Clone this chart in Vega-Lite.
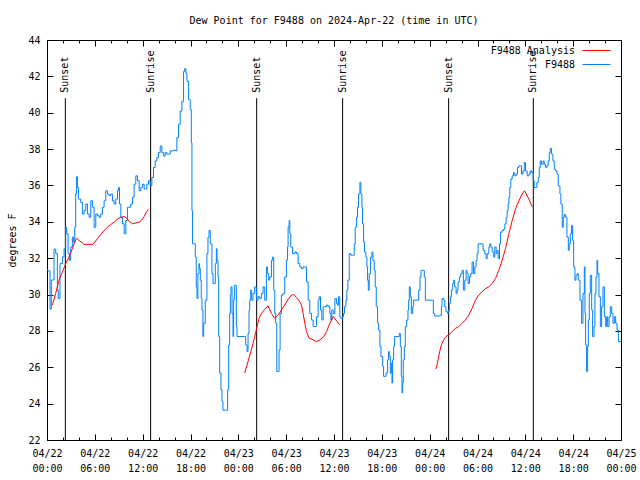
{
  "$schema": "https://vega.github.io/schema/vega-lite/v6.json",
  "width": 574,
  "height": 400,
  "autosize": {"type": "none"},
  "padding": {"left": 47, "top": 40, "right": 19, "bottom": 40},
  "background": "white",
  "title": {"text": "Dew Point for F9488 on 2024-Apr-22 (time in UTC)", "font": "DejaVu Sans Mono", "fontSize": 10, "fontWeight": "normal", "color": "black", "anchor": "middle", "offset": 9},
  "config": {"view": {"stroke": null}, "font": "DejaVu Sans Mono"},
  "datasets": {
    "sun": [
      {"h": 2.30, "label": "Sunset"},
      {"h": 13.0, "label": "Sunrise"},
      {"h": 26.3, "label": "Sunset"},
      {"h": 37.08, "label": "Sunrise"},
      {"h": 50.38, "label": "Sunset"},
      {"h": 61.0, "label": "Sunrise"}
    ],
    "obs": [
      {"h": 0.0, "v": 31.35}, {"h": 0.13, "v": 31.3}, {"h": 0.38, "v": 29.2}, {"h": 0.54, "v": 30.8}, {"h": 0.88, "v": 32.5},
      {"h": 1.09, "v": 32.25}, {"h": 1.30, "v": 30.24}, {"h": 1.42, "v": 29.78}, {"h": 1.63, "v": 31.70}, {"h": 1.93, "v": 32.07},
      {"h": 2.14, "v": 32.52}, {"h": 2.35, "v": 33.70}, {"h": 2.47, "v": 33.34}, {"h": 2.64, "v": 32.25}, {"h": 2.81, "v": 31.88},
      {"h": 2.97, "v": 32.61}, {"h": 3.18, "v": 33.16}, {"h": 3.31, "v": 32.88}, {"h": 3.48, "v": 33.70}, {"h": 3.60, "v": 35.53},
      {"h": 3.69, "v": 36.48}, {"h": 3.81, "v": 35.89}, {"h": 3.94, "v": 35.25}, {"h": 4.23, "v": 35.07}, {"h": 4.44, "v": 34.43},
      {"h": 4.65, "v": 34.62}, {"h": 4.86, "v": 34.98}, {"h": 5.07, "v": 34.43}, {"h": 5.28, "v": 34.25}, {"h": 5.49, "v": 35.16},
      {"h": 5.70, "v": 34.80}, {"h": 5.91, "v": 33.70}, {"h": 6.12, "v": 34.43}, {"h": 6.32, "v": 34.34}, {"h": 6.53, "v": 34.25},
      {"h": 6.74, "v": 34.43}, {"h": 6.95, "v": 34.80}, {"h": 7.16, "v": 35.16}, {"h": 7.37, "v": 35.71}, {"h": 7.58, "v": 35.53},
      {"h": 7.79, "v": 35.44}, {"h": 8.00, "v": 35.53}, {"h": 8.21, "v": 35.16}, {"h": 8.42, "v": 34.98}, {"h": 8.63, "v": 35.25},
      {"h": 8.84, "v": 35.71}, {"h": 8.96, "v": 35.89}, {"h": 9.09, "v": 34.98}, {"h": 9.26, "v": 34.25}, {"h": 9.47, "v": 33.89},
      {"h": 9.68, "v": 33.34}, {"h": 9.89, "v": 34.07}, {"h": 10.09, "v": 34.80}, {"h": 10.30, "v": 34.80}, {"h": 10.51, "v": 34.98},
      {"h": 10.72, "v": 35.35}, {"h": 10.93, "v": 36.07}, {"h": 11.14, "v": 36.53}, {"h": 11.35, "v": 36.26}, {"h": 11.56, "v": 35.71},
      {"h": 11.77, "v": 35.89}, {"h": 11.98, "v": 36.07}, {"h": 12.19, "v": 35.80}, {"h": 12.31, "v": 35.80}, {"h": 12.52, "v": 36.07},
      {"h": 12.73, "v": 36.26}, {"h": 12.94, "v": 35.98}, {"h": 13.15, "v": 36.44}, {"h": 13.36, "v": 36.99}, {"h": 13.57, "v": 37.35},
      {"h": 13.78, "v": 37.53}, {"h": 13.99, "v": 37.81}, {"h": 14.20, "v": 38.17}, {"h": 14.41, "v": 37.81}, {"h": 14.62, "v": 37.62},
      {"h": 14.83, "v": 37.81}, {"h": 15.04, "v": 37.72}, {"h": 15.25, "v": 37.72}, {"h": 15.46, "v": 37.90}, {"h": 15.87, "v": 37.93},
      {"h": 16.21, "v": 37.90}, {"h": 16.29, "v": 38.63}, {"h": 16.50, "v": 39.36}, {"h": 16.71, "v": 40.09}, {"h": 16.92, "v": 40.63},
      {"h": 17.13, "v": 42.27}, {"h": 17.26, "v": 42.42}, {"h": 17.42, "v": 42.18}, {"h": 17.55, "v": 41.73}, {"h": 17.76, "v": 40.72},
      {"h": 17.97, "v": 40.18}, {"h": 18.10, "v": 38.35}, {"h": 18.18, "v": 34.62}, {"h": 18.26, "v": 32.79}, {"h": 18.51, "v": 32.79},
      {"h": 18.60, "v": 32.06}, {"h": 18.72, "v": 30.42}, {"h": 18.81, "v": 29.78}, {"h": 18.93, "v": 31.15}, {"h": 19.06, "v": 31.70},
      {"h": 19.14, "v": 31.43}, {"h": 19.23, "v": 30.79}, {"h": 19.35, "v": 29.78}, {"h": 19.44, "v": 29.15}, {"h": 19.56, "v": 27.69},
      {"h": 19.65, "v": 28.42}, {"h": 19.85, "v": 29.69}, {"h": 20.06, "v": 32.25}, {"h": 20.19, "v": 33.16}, {"h": 20.32, "v": 33.52},
      {"h": 20.48, "v": 32.79}, {"h": 20.69, "v": 31.15}, {"h": 20.82, "v": 30.61}, {"h": 20.90, "v": 30.61}, {"h": 21.11, "v": 31.70},
      {"h": 21.24, "v": 32.52}, {"h": 21.32, "v": 31.88}, {"h": 21.45, "v": 30.97}, {"h": 21.53, "v": 27.69}, {"h": 21.66, "v": 25.68},
      {"h": 21.82, "v": 24.77}, {"h": 21.95, "v": 24.13}, {"h": 22.07, "v": 23.64}, {"h": 22.58, "v": 23.64}, {"h": 22.66, "v": 24.77},
      {"h": 22.79, "v": 27.23}, {"h": 22.91, "v": 28.96}, {"h": 23.00, "v": 29.97}, {"h": 23.08, "v": 30.42}, {"h": 23.21, "v": 28.96},
      {"h": 23.33, "v": 27.69}, {"h": 23.41, "v": 29.69}, {"h": 23.50, "v": 30.51}, {"h": 23.62, "v": 30.51}, {"h": 23.75, "v": 28.24},
      {"h": 23.83, "v": 27.69}, {"h": 24.80, "v": 27.69}, {"h": 24.92, "v": 27.23}, {"h": 25.09, "v": 26.87}, {"h": 25.22, "v": 27.87},
      {"h": 25.34, "v": 29.15}, {"h": 25.43, "v": 29.69}, {"h": 25.55, "v": 30.24}, {"h": 25.68, "v": 29.69}, {"h": 25.84, "v": 30.06},
      {"h": 26.05, "v": 30.42}, {"h": 26.26, "v": 29.69}, {"h": 26.47, "v": 29.88}, {"h": 26.68, "v": 29.78}, {"h": 26.89, "v": 30.06},
      {"h": 27.10, "v": 30.42}, {"h": 27.31, "v": 29.69}, {"h": 27.52, "v": 31.52}, {"h": 27.65, "v": 31.15}, {"h": 27.81, "v": 30.79},
      {"h": 27.94, "v": 30.97}, {"h": 28.15, "v": 31.88}, {"h": 28.27, "v": 32.06}, {"h": 28.44, "v": 30.24}, {"h": 28.57, "v": 28.96},
      {"h": 28.69, "v": 28.42}, {"h": 28.82, "v": 25.77}, {"h": 28.99, "v": 25.77}, {"h": 29.11, "v": 26.96}, {"h": 29.24, "v": 28.96},
      {"h": 29.40, "v": 29.97}, {"h": 29.61, "v": 30.06}, {"h": 29.82, "v": 30.97}, {"h": 30.03, "v": 31.88}, {"h": 30.16, "v": 32.61},
      {"h": 30.24, "v": 33.70}, {"h": 30.37, "v": 34.07}, {"h": 30.45, "v": 33.34}, {"h": 30.58, "v": 32.61}, {"h": 30.79, "v": 32.25},
      {"h": 31.08, "v": 32.34}, {"h": 31.29, "v": 32.25}, {"h": 31.50, "v": 31.70}, {"h": 31.71, "v": 31.52}, {"h": 31.92, "v": 31.43},
      {"h": 32.13, "v": 31.52}, {"h": 32.34, "v": 31.52}, {"h": 32.55, "v": 30.70}, {"h": 32.76, "v": 29.69}, {"h": 32.96, "v": 28.96},
      {"h": 33.17, "v": 28.60}, {"h": 33.38, "v": 28.24}, {"h": 33.59, "v": 28.24}, {"h": 33.80, "v": 28.78}, {"h": 34.01, "v": 29.69},
      {"h": 34.14, "v": 29.88}, {"h": 34.31, "v": 29.15}, {"h": 34.47, "v": 28.60}, {"h": 34.64, "v": 29.33}, {"h": 34.85, "v": 29.33},
      {"h": 35.06, "v": 29.42}, {"h": 35.27, "v": 29.33}, {"h": 35.48, "v": 28.96}, {"h": 35.60, "v": 28.60}, {"h": 35.73, "v": 29.15},
      {"h": 35.90, "v": 28.96}, {"h": 36.11, "v": 29.78}, {"h": 36.32, "v": 29.51}, {"h": 36.44, "v": 29.42}, {"h": 36.57, "v": 29.88},
      {"h": 36.73, "v": 28.78}, {"h": 36.86, "v": 28.69}, {"h": 37.07, "v": 28.78}, {"h": 37.20, "v": 28.96}, {"h": 37.32, "v": 29.33},
      {"h": 37.49, "v": 29.69}, {"h": 37.61, "v": 30.24}, {"h": 37.74, "v": 30.79}, {"h": 37.91, "v": 32.25}, {"h": 38.12, "v": 32.16},
      {"h": 38.33, "v": 32.16}, {"h": 38.54, "v": 32.79}, {"h": 38.66, "v": 33.70}, {"h": 38.83, "v": 34.25}, {"h": 38.95, "v": 34.80},
      {"h": 39.08, "v": 35.53}, {"h": 39.25, "v": 36.17}, {"h": 39.37, "v": 35.53}, {"h": 39.50, "v": 34.80}, {"h": 39.58, "v": 33.89},
      {"h": 39.71, "v": 32.88}, {"h": 39.83, "v": 32.34}, {"h": 40.00, "v": 32.06}, {"h": 40.13, "v": 31.52}, {"h": 40.21, "v": 30.79},
      {"h": 40.30, "v": 30.24}, {"h": 40.42, "v": 31.15}, {"h": 40.59, "v": 32.06}, {"h": 40.76, "v": 32.34}, {"h": 40.88, "v": 31.88},
      {"h": 41.05, "v": 31.33}, {"h": 41.17, "v": 30.42}, {"h": 41.30, "v": 29.33}, {"h": 41.47, "v": 28.42}, {"h": 41.59, "v": 28.05},
      {"h": 41.76, "v": 27.14}, {"h": 41.89, "v": 26.59}, {"h": 42.10, "v": 26.05}, {"h": 42.22, "v": 25.50}, {"h": 42.52, "v": 25.68},
      {"h": 42.72, "v": 26.41}, {"h": 42.85, "v": 26.87}, {"h": 42.93, "v": 26.59}, {"h": 43.06, "v": 25.68}, {"h": 43.19, "v": 26.23},
      {"h": 43.27, "v": 25.14}, {"h": 43.35, "v": 26.41}, {"h": 43.48, "v": 27.14}, {"h": 43.60, "v": 27.69}, {"h": 44.19, "v": 27.87},
      {"h": 44.32, "v": 27.14}, {"h": 44.44, "v": 25.50}, {"h": 44.53, "v": 24.59}, {"h": 44.61, "v": 25.14}, {"h": 44.69, "v": 26.41},
      {"h": 44.82, "v": 27.14}, {"h": 44.94, "v": 28.24}, {"h": 45.11, "v": 28.60}, {"h": 45.28, "v": 29.15}, {"h": 45.36, "v": 29.69},
      {"h": 45.45, "v": 30.42}, {"h": 45.57, "v": 29.88}, {"h": 45.70, "v": 28.96}, {"h": 45.87, "v": 29.33}, {"h": 45.99, "v": 29.69},
      {"h": 46.49, "v": 29.69}, {"h": 46.62, "v": 30.24}, {"h": 46.79, "v": 30.97}, {"h": 46.91, "v": 31.33}, {"h": 47.21, "v": 31.33},
      {"h": 47.33, "v": 30.97}, {"h": 47.46, "v": 29.69}, {"h": 48.38, "v": 29.69}, {"h": 48.46, "v": 28.96}, {"h": 48.63, "v": 28.82},
      {"h": 49.34, "v": 28.87}, {"h": 49.47, "v": 29.33}, {"h": 49.55, "v": 29.78}, {"h": 49.76, "v": 29.69}, {"h": 49.89, "v": 29.33},
      {"h": 50.05, "v": 29.06}, {"h": 50.22, "v": 28.96}, {"h": 50.39, "v": 29.15}, {"h": 50.47, "v": 29.51}, {"h": 50.60, "v": 29.88},
      {"h": 50.73, "v": 30.24}, {"h": 50.89, "v": 30.61}, {"h": 51.02, "v": 30.79}, {"h": 51.14, "v": 30.42}, {"h": 51.31, "v": 30.06},
      {"h": 51.44, "v": 30.24}, {"h": 51.56, "v": 30.70}, {"h": 51.73, "v": 30.97}, {"h": 51.90, "v": 31.15}, {"h": 52.07, "v": 31.33},
      {"h": 52.23, "v": 30.24}, {"h": 52.40, "v": 30.79}, {"h": 52.57, "v": 31.33}, {"h": 52.69, "v": 31.15}, {"h": 52.82, "v": 30.61},
      {"h": 52.99, "v": 30.97}, {"h": 53.15, "v": 31.15}, {"h": 53.32, "v": 31.79}, {"h": 53.49, "v": 31.15}, {"h": 53.66, "v": 31.52},
      {"h": 53.82, "v": 31.88}, {"h": 53.95, "v": 32.25}, {"h": 54.08, "v": 32.79}, {"h": 54.58, "v": 32.79}, {"h": 54.70, "v": 32.43},
      {"h": 54.91, "v": 32.25}, {"h": 55.08, "v": 31.97}, {"h": 55.21, "v": 32.25}, {"h": 55.42, "v": 32.61}, {"h": 55.54, "v": 32.79},
      {"h": 55.67, "v": 32.61}, {"h": 55.84, "v": 32.34}, {"h": 56.04, "v": 32.06}, {"h": 56.17, "v": 32.61}, {"h": 56.34, "v": 32.25},
      {"h": 56.46, "v": 32.43}, {"h": 56.59, "v": 31.97}, {"h": 56.76, "v": 32.79}, {"h": 56.88, "v": 33.43}, {"h": 57.09, "v": 33.52},
      {"h": 57.30, "v": 33.61}, {"h": 57.43, "v": 33.89}, {"h": 57.59, "v": 34.25}, {"h": 57.72, "v": 34.62}, {"h": 57.84, "v": 34.98},
      {"h": 57.93, "v": 35.35}, {"h": 58.05, "v": 35.89}, {"h": 58.18, "v": 36.35}, {"h": 58.35, "v": 36.53}, {"h": 58.52, "v": 36.71},
      {"h": 58.68, "v": 36.53}, {"h": 58.85, "v": 36.62}, {"h": 59.02, "v": 36.99}, {"h": 59.19, "v": 37.08}, {"h": 59.35, "v": 37.08},
      {"h": 59.52, "v": 36.62}, {"h": 59.69, "v": 36.80}, {"h": 59.86, "v": 37.26}, {"h": 60.02, "v": 36.80}, {"h": 60.23, "v": 36.53},
      {"h": 60.44, "v": 36.62}, {"h": 60.61, "v": 36.80}, {"h": 60.78, "v": 36.71}, {"h": 60.99, "v": 36.26}, {"h": 61.11, "v": 35.89},
      {"h": 61.32, "v": 35.89}, {"h": 61.45, "v": 36.17}, {"h": 61.62, "v": 36.44}, {"h": 61.74, "v": 36.99}, {"h": 61.87, "v": 37.35},
      {"h": 62.03, "v": 37.17}, {"h": 62.24, "v": 37.35}, {"h": 62.37, "v": 37.17}, {"h": 62.54, "v": 36.99}, {"h": 62.70, "v": 37.08},
      {"h": 62.87, "v": 37.35}, {"h": 63.00, "v": 37.81}, {"h": 63.12, "v": 38.04}, {"h": 63.29, "v": 37.72}, {"h": 63.46, "v": 37.35},
      {"h": 63.63, "v": 36.90}, {"h": 63.79, "v": 36.80}, {"h": 63.96, "v": 36.62}, {"h": 64.13, "v": 35.98}, {"h": 64.34, "v": 35.53},
      {"h": 64.46, "v": 34.98}, {"h": 64.63, "v": 33.70}, {"h": 64.76, "v": 34.25}, {"h": 64.88, "v": 34.40}, {"h": 65.05, "v": 34.25},
      {"h": 65.22, "v": 33.16}, {"h": 65.39, "v": 32.43}, {"h": 65.51, "v": 32.79}, {"h": 65.64, "v": 33.34}, {"h": 65.80, "v": 33.80},
      {"h": 65.93, "v": 32.98}, {"h": 66.06, "v": 31.52}, {"h": 66.22, "v": 30.79}, {"h": 66.35, "v": 31.06}, {"h": 66.52, "v": 31.15},
      {"h": 66.64, "v": 30.79}, {"h": 66.85, "v": 29.69}, {"h": 67.06, "v": 28.42}, {"h": 67.23, "v": 30.06}, {"h": 67.40, "v": 31.52},
      {"h": 67.48, "v": 28.96}, {"h": 67.56, "v": 27.23}, {"h": 67.69, "v": 25.77}, {"h": 67.81, "v": 27.14}, {"h": 67.90, "v": 28.60},
      {"h": 68.02, "v": 30.06}, {"h": 68.15, "v": 31.06}, {"h": 68.32, "v": 29.15}, {"h": 68.44, "v": 27.69}, {"h": 68.61, "v": 28.24},
      {"h": 68.73, "v": 30.06}, {"h": 68.86, "v": 30.97}, {"h": 68.99, "v": 31.88}, {"h": 69.07, "v": 31.15}, {"h": 69.24, "v": 29.88},
      {"h": 69.41, "v": 28.24}, {"h": 69.57, "v": 29.33}, {"h": 69.74, "v": 30.42}, {"h": 69.91, "v": 28.78}, {"h": 70.08, "v": 28.24},
      {"h": 70.20, "v": 28.78}, {"h": 70.33, "v": 28.24}, {"h": 70.50, "v": 28.78}, {"h": 70.66, "v": 29.33}, {"h": 70.83, "v": 28.96},
      {"h": 71.00, "v": 28.42}, {"h": 71.17, "v": 28.78}, {"h": 71.33, "v": 28.42}, {"h": 71.50, "v": 28.05}, {"h": 71.67, "v": 27.41},
      {"h": 72.00, "v": 27.41}
    ],
    "ana": [
      {"seg": 1, "h": 0.67, "v": 29.42}, {"seg": 1, "h": 1.09, "v": 30.06}, {"seg": 1, "h": 1.51, "v": 30.79}, {"seg": 1, "h": 1.93, "v": 31.24},
      {"seg": 1, "h": 2.35, "v": 31.70}, {"seg": 1, "h": 2.77, "v": 32.07}, {"seg": 1, "h": 3.18, "v": 32.52}, {"seg": 1, "h": 3.48, "v": 32.88},
      {"seg": 1, "h": 3.69, "v": 33.10}, {"seg": 1, "h": 4.02, "v": 32.98}, {"seg": 1, "h": 4.44, "v": 32.83}, {"seg": 1, "h": 4.65, "v": 32.76},
      {"seg": 1, "h": 5.70, "v": 32.76}, {"seg": 1, "h": 5.91, "v": 32.83}, {"seg": 1, "h": 6.32, "v": 33.07}, {"seg": 1, "h": 6.74, "v": 33.30},
      {"seg": 1, "h": 7.16, "v": 33.52}, {"seg": 1, "h": 7.58, "v": 33.70}, {"seg": 1, "h": 8.00, "v": 33.85}, {"seg": 1, "h": 8.42, "v": 33.98},
      {"seg": 1, "h": 8.84, "v": 34.16}, {"seg": 1, "h": 9.26, "v": 34.25}, {"seg": 1, "h": 9.68, "v": 34.29}, {"seg": 1, "h": 10.09, "v": 34.16},
      {"seg": 1, "h": 10.30, "v": 34.03}, {"seg": 1, "h": 10.72, "v": 33.89}, {"seg": 1, "h": 11.14, "v": 33.94}, {"seg": 1, "h": 11.56, "v": 33.98},
      {"seg": 1, "h": 11.85, "v": 34.07}, {"seg": 1, "h": 12.19, "v": 34.29}, {"seg": 1, "h": 12.52, "v": 34.58}, {"seg": 1, "h": 12.73, "v": 34.67},
      {"seg": 2, "h": 24.80, "v": 25.68}, {"seg": 2, "h": 25.22, "v": 26.32}, {"seg": 2, "h": 25.64, "v": 26.96}, {"seg": 2, "h": 26.05, "v": 27.69},
      {"seg": 2, "h": 26.35, "v": 28.24}, {"seg": 2, "h": 26.60, "v": 28.69}, {"seg": 2, "h": 26.89, "v": 28.96}, {"seg": 2, "h": 27.31, "v": 29.18},
      {"seg": 2, "h": 27.73, "v": 29.38}, {"seg": 2, "h": 28.15, "v": 28.96}, {"seg": 2, "h": 28.57, "v": 28.69}, {"seg": 2, "h": 28.99, "v": 28.87},
      {"seg": 2, "h": 29.40, "v": 29.15}, {"seg": 2, "h": 29.82, "v": 29.42}, {"seg": 2, "h": 30.24, "v": 29.73}, {"seg": 2, "h": 30.66, "v": 29.97},
      {"seg": 2, "h": 30.95, "v": 30.00}, {"seg": 2, "h": 31.29, "v": 29.84}, {"seg": 2, "h": 31.71, "v": 29.60}, {"seg": 2, "h": 31.92, "v": 29.42},
      {"seg": 2, "h": 32.13, "v": 28.96}, {"seg": 2, "h": 32.34, "v": 28.42}, {"seg": 2, "h": 32.55, "v": 27.96}, {"seg": 2, "h": 32.88, "v": 27.60},
      {"seg": 2, "h": 33.38, "v": 27.51}, {"seg": 2, "h": 33.80, "v": 27.41}, {"seg": 2, "h": 34.22, "v": 27.51}, {"seg": 2, "h": 34.64, "v": 27.65},
      {"seg": 2, "h": 35.06, "v": 27.96}, {"seg": 2, "h": 35.48, "v": 28.42}, {"seg": 2, "h": 35.90, "v": 28.80}, {"seg": 2, "h": 36.32, "v": 28.55},
      {"seg": 2, "h": 36.73, "v": 28.33},
      {"seg": 3, "h": 48.80, "v": 25.90}, {"seg": 3, "h": 49.05, "v": 26.41}, {"seg": 3, "h": 49.26, "v": 26.87}, {"seg": 3, "h": 49.47, "v": 27.23},
      {"seg": 3, "h": 49.76, "v": 27.51}, {"seg": 3, "h": 50.05, "v": 27.69}, {"seg": 3, "h": 50.39, "v": 27.78}, {"seg": 3, "h": 50.81, "v": 27.96},
      {"seg": 3, "h": 51.23, "v": 28.14}, {"seg": 3, "h": 51.65, "v": 28.24}, {"seg": 3, "h": 52.07, "v": 28.42}, {"seg": 3, "h": 52.48, "v": 28.60},
      {"seg": 3, "h": 52.90, "v": 28.87}, {"seg": 3, "h": 53.32, "v": 29.24}, {"seg": 3, "h": 53.74, "v": 29.69}, {"seg": 3, "h": 54.16, "v": 29.97},
      {"seg": 3, "h": 54.58, "v": 30.15}, {"seg": 3, "h": 55.00, "v": 30.33}, {"seg": 3, "h": 55.42, "v": 30.42}, {"seg": 3, "h": 55.84, "v": 30.61},
      {"seg": 3, "h": 56.26, "v": 30.88}, {"seg": 3, "h": 56.67, "v": 31.33}, {"seg": 3, "h": 57.09, "v": 31.88}, {"seg": 3, "h": 57.51, "v": 32.52},
      {"seg": 3, "h": 57.93, "v": 33.34}, {"seg": 3, "h": 58.35, "v": 34.07}, {"seg": 3, "h": 58.77, "v": 34.71}, {"seg": 3, "h": 59.19, "v": 35.16},
      {"seg": 3, "h": 59.61, "v": 35.53}, {"seg": 3, "h": 59.90, "v": 35.71}, {"seg": 3, "h": 60.11, "v": 35.53}, {"seg": 3, "h": 60.44, "v": 35.25},
      {"seg": 3, "h": 60.86, "v": 34.83}
    ]
  },
  "layer": [
    {
      "data": {"name": "sun"},
      "mark": {"type": "rule", "color": "black", "strokeWidth": 1},
      "encoding": {
        "x": {"field": "h", "type": "quantitative", "scale": {"domain": [0, 72], "nice": false, "zero": false}, "axis": null},
        "y": {"datum": 40.8, "type": "quantitative", "scale": {"domain": [22, 44], "nice": false, "zero": false}, "axis": null},
        "y2": {"datum": 22}
      }
    },
    {
      "data": {"name": "sun"},
      "mark": {"type": "text", "angle": 270, "align": "left", "baseline": "middle", "font": "DejaVu Sans Mono", "fontSize": 10, "color": "black"},
      "encoding": {
        "x": {"field": "h", "type": "quantitative", "axis": null},
        "y": {"datum": 41.1, "type": "quantitative", "axis": null},
        "text": {"field": "label"}
      }
    },
    {
      "data": {"name": "obs"},
      "mark": {"type": "line", "interpolate": "step-after", "strokeWidth": 1, "clip": true},
      "encoding": {
        "x": {"field": "h", "type": "quantitative",
          "axis": {"orient": "bottom", "title": null, "values": [0,2,4,6,8,10,12,14,16,18,20,22,24,26,28,30,32,34,36,38,40,42,44,46,48,50,52,54,56,58,60,62,64,66,68,70,72],
            "labelExpr": "datum.value % 6 === 0 ? ['04/' + (22 + floor(datum.value / 24)), (datum.value % 24 < 10 ? '0' : '') + (datum.value % 24) + ':00'] : ''",
            "tickSize": {"condition": {"test": "datum.value % 6 === 0", "value": -6}, "value": -3},
            "labelPadding": 14, "labelLineHeight": 15, "labelFont": "DejaVu Sans Mono", "labelFontSize": 10, "labelColor": "black",
            "labelAngle": 0, "labelFlush": false, "labelOverlap": false, "labelBound": false,
            "domainColor": "black", "tickColor": "black", "grid": false}},
        "y": {"field": "v", "type": "quantitative",
          "axis": {"orient": "left", "title": "degrees F", "values": [22,24,26,28,30,32,34,36,38,40,42,44],
            "tickSize": -6, "labelPadding": 13, "labelFont": "DejaVu Sans Mono", "labelFontSize": 10, "labelColor": "black",
            "labelFlush": false, "labelOverlap": false, "labelBound": false,
            "titleFont": "DejaVu Sans Mono", "titleFontSize": 10, "titleFontWeight": "normal", "titleColor": "black", "titlePadding": 10,
            "domainColor": "black", "tickColor": "black", "grid": false}},
        "color": {"datum": "F9488", "type": "nominal",
          "scale": {"domain": ["F9488 Analysis", "F9488"], "range": ["#ff0000", "#0080ff"]},
          "legend": {"orient": "none", "legendX": 544, "legendY": 5, "title": null, "symbolType": "M-2.8,0H2.8", "symbolSize": 100, "symbolStrokeWidth": 1,
            "labelAlign": "right", "labelOffset": -27, "labelFont": "DejaVu Sans Mono", "labelFontSize": 10, "labelColor": "black", "rowPadding": 3}}
      }
    },
    {
      "data": {"name": "ana"},
      "mark": {"type": "line", "strokeWidth": 1, "clip": true},
      "encoding": {
        "x": {"field": "h", "type": "quantitative",
          "axis": {"orient": "top", "title": null, "labels": false, "values": [0,2,4,6,8,10,12,14,16,18,20,22,24,26,28,30,32,34,36,38,40,42,44,46,48,50,52,54,56,58,60,62,64,66,68,70,72],
            "tickSize": {"condition": {"test": "datum.value % 6 === 0", "value": -6}, "value": -3},
            "domainColor": "black", "tickColor": "black", "grid": false}},
        "y": {"field": "v", "type": "quantitative",
          "axis": {"orient": "right", "title": null, "labels": false, "values": [22,24,26,28,30,32,34,36,38,40,42,44], "tickSize": -6,
            "domainColor": "black", "tickColor": "black", "grid": false}},
        "detail": {"field": "seg"},
        "color": {"datum": "F9488 Analysis", "type": "nominal"}
      }
    }
  ],
  "resolve": {"axis": {"x": "independent", "y": "independent"}}
}
